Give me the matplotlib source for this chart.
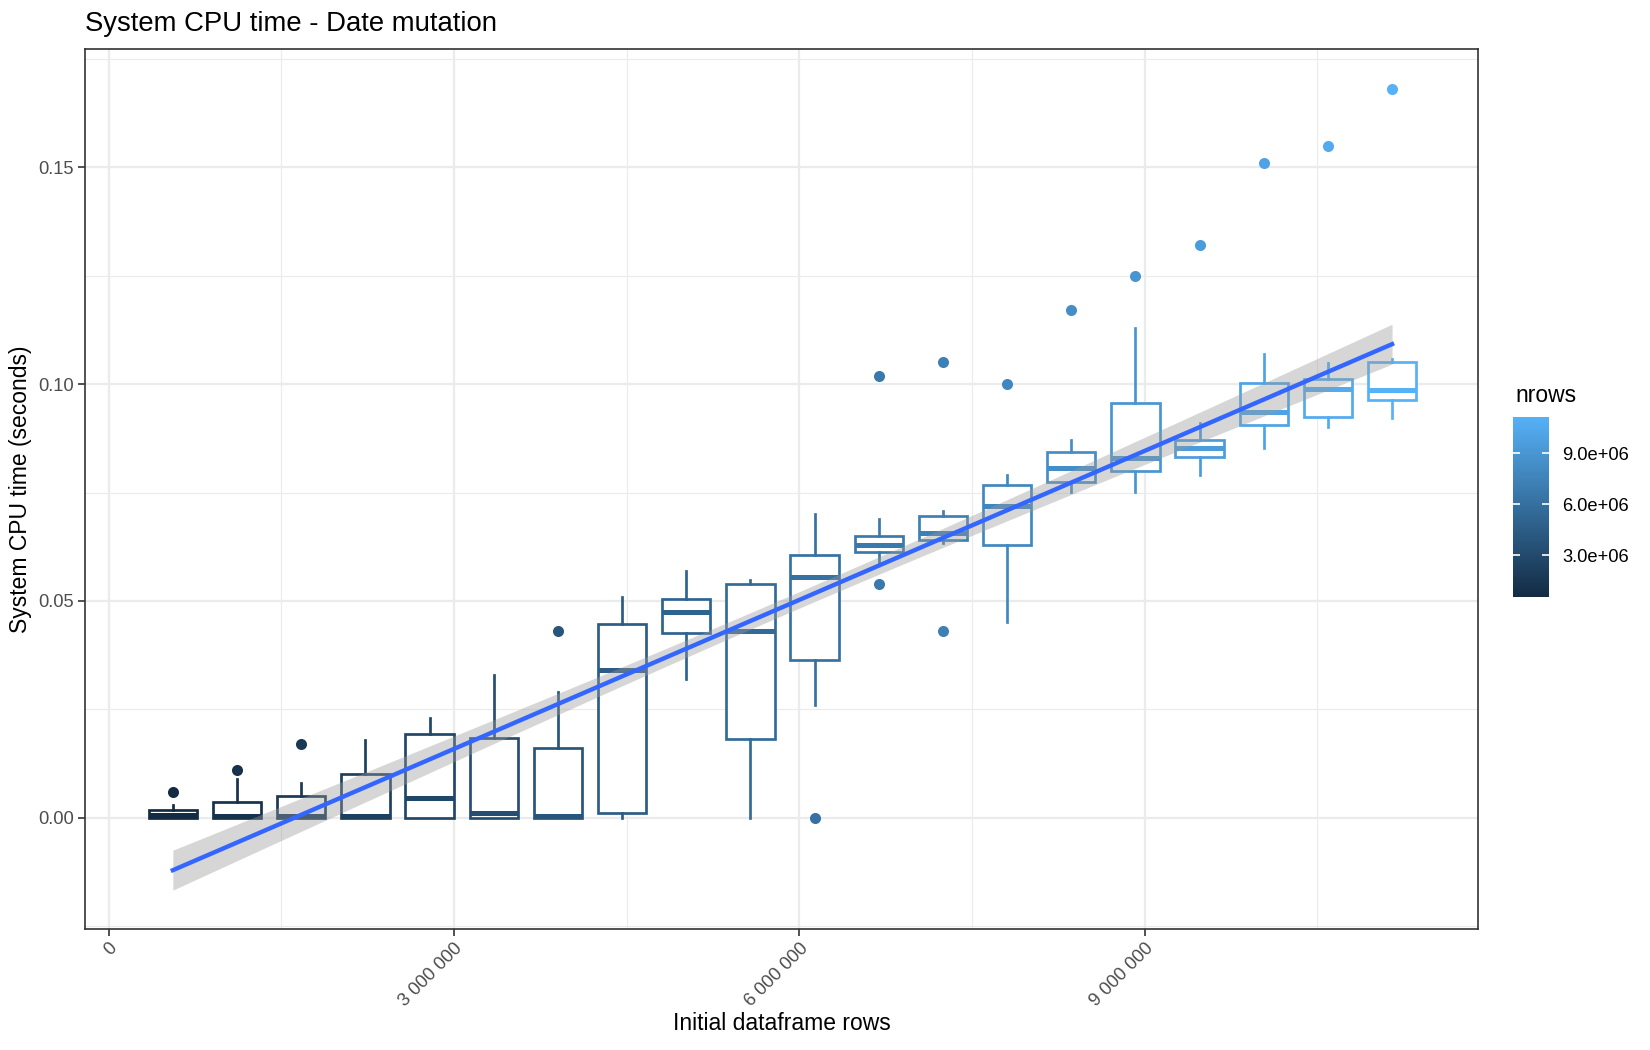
import matplotlib
matplotlib.use("Agg")
import matplotlib.pyplot as plt
import numpy as np
from matplotlib.colors import LinearSegmentedColormap, Normalize
from matplotlib.cm import ScalarMappable

plt.rcParams['font.family'] = ['Liberation Sans', 'DejaVu Sans']

# box statistics, one entry per group
nrows = [557500, 1115000, 1672500, 2230000, 2787500, 3345000, 3902500, 4460000,
         5017500, 5575000, 6132500, 6690000, 7247500, 7805000, 8362500, 8920000,
         9477500, 10035000, 10592500, 11150000]
q1 = [0.0, 0.0, 0.0, 0.0, 0.0, 0.0, 0.0, 0.0010, 0.0425, 0.0182,
      0.0364, 0.0613, 0.0640, 0.0630, 0.0775, 0.0799, 0.0833, 0.0906, 0.0925, 0.0963]
med = [0.0006, 0.0003, 0.0003, 0.0003, 0.0046, 0.0010, 0.0005, 0.0341, 0.0475, 0.0431,
       0.0556, 0.0630, 0.0656, 0.0720, 0.0806, 0.0830, 0.0852, 0.0936, 0.0990, 0.0986]
q3 = [0.0018, 0.0036, 0.0050, 0.0100, 0.0193, 0.0183, 0.0160, 0.0448, 0.0505, 0.0540,
      0.0605, 0.0650, 0.0696, 0.0768, 0.0843, 0.0956, 0.0871, 0.1003, 0.1013, 0.1052]
whisk_lo = [0.0, 0.0, 0.0, 0.0, 0.0, 0.0, 0.0, 0.0, 0.0321, 0.0,
            0.0261, 0.0591, 0.0633, 0.0451, 0.0752, 0.0752, 0.0791, 0.0852, 0.0902, 0.0921]
whisk_hi = [0.0029, 0.0089, 0.0079, 0.0179, 0.0229, 0.0330, 0.0289, 0.0510, 0.0569, 0.0549,
            0.0700, 0.0689, 0.0708, 0.0790, 0.0871, 0.1130, 0.0910, 0.1069, 0.1049, 0.1058]
outliers = [[0.006], [0.011], [0.017], [], [], [], [0.043], [], [], [],
            [0.0], [0.054, 0.102], [0.043, 0.105], [0.100], [0.117], [0.125],
            [0.132], [0.151], [0.155], [0.168]]

# lm smooth (geom_smooth)
fit_intercept = -0.01848
fit_slope = 0.011454e-6
se_mid = 0.0019
se_end = 0.0046

x_major = [0, 3000000, 6000000, 9000000]
x_labels = ["0", "3 000 000", "6 000 000", "9 000 000"]
y_major = [0.0, 0.05, 0.10, 0.15]
cbar_ticks = [3e6, 6e6, 9e6]
cbar_labels = ["3.0e+06", "6.0e+06", "9.0e+06"]

fig = plt.figure(figsize=(11, 7), dpi=150)
ax = fig.add_axes([0.0515, 0.1152, 0.8445, 0.8377])

cmap = LinearSegmentedColormap.from_list("gg", ["#132B43", "#56B1F7"])
norm = Normalize(min(nrows), max(nrows))

for i, n in enumerate(nrows):
    col = cmap(norm(n))
    stats = dict(med=med[i], q1=q1[i], q3=q3[i], whislo=whisk_lo[i],
                 whishi=whisk_hi[i], fliers=outliers[i])
    ax.bxp([stats], positions=[n], widths=420000, showcaps=False,
           patch_artist=True, manage_ticks=False,
           boxprops=dict(facecolor="white", edgecolor=col, linewidth=1.3),
           whiskerprops=dict(color=col, linewidth=1.3),
           medianprops=dict(color=col, linewidth=2.4, solid_capstyle="butt"),
           flierprops=dict(marker="o", markerfacecolor=col, markeredgecolor=col,
                           markersize=4.3))

xs = np.linspace(min(nrows), max(nrows), 200)
xm = (min(nrows) + max(nrows)) / 2
k = (se_end**2 - se_mid**2) / (max(nrows) - xm)**2
half = np.sqrt(se_mid**2 + k * (xs - xm)**2)
yfit = fit_intercept + fit_slope * xs
ax.fill_between(xs, yfit - half, yfit + half, color="#999999", alpha=0.4, lw=0, zorder=4)
ax.plot(xs, yfit, color="#3366FF", lw=2.1, zorder=5)

ax.set_xlim(-206000, 11900000)
ax.set_ylim(-0.02567, 0.1772)
ax.set_xticks(x_major)
ax.set_xticklabels(x_labels, rotation=45, ha="right", va="top", rotation_mode="anchor")
ax.set_xticks([1500000, 4500000, 7500000, 10500000], minor=True)
ax.set_yticks(y_major)
ax.set_yticklabels(["%.2f" % v for v in y_major])
ax.set_yticks([-0.025, 0.025, 0.075, 0.125, 0.175], minor=True)
ax.grid(which="major", color="#EBEBEB", lw=1.1)
ax.grid(which="minor", color="#EBEBEB", lw=0.55)
ax.set_axisbelow(True)
ax.tick_params(which="minor", length=0)
ax.tick_params(which="major", length=3.2, width=0.8, color="#333333",
               labelcolor="#4D4D4D", labelsize=8.8, pad=2)
for s in ax.spines.values():
    s.set_color("#333333")
    s.set_linewidth(0.8)

fig.text(85 / 1650, 1 - 31 / 1050, "System CPU time - Date mutation", fontsize=13.2,
         ha="left", va="baseline")
fig.text(21 / 1650, 1 - 489 / 1050, "System CPU time (seconds)", fontsize=11,
         rotation=90, ha="center", va="center")
fig.text(781.7 / 1650, 1 - 1024 / 1050, "Initial dataframe rows", fontsize=11,
         ha="center", va="center")

cax = fig.add_axes([0.9172, 0.4317, 0.0218, 0.1714])
cb = fig.colorbar(ScalarMappable(norm=norm, cmap=cmap), cax=cax)
cb.outline.set_visible(False)
cb.set_ticks(cbar_ticks)
cb.set_ticklabels(cbar_labels)
cax.tick_params(direction="in", left=True, right=True, color="white", length=3.5,
                width=0.8, labelsize=8.8, pad=6, labelcolor="black")
fig.text(1515 / 1650, 1 - 401.7 / 1050, "nrows", fontsize=11, ha="left", va="baseline")

fig.savefig("out.png", dpi=150)
